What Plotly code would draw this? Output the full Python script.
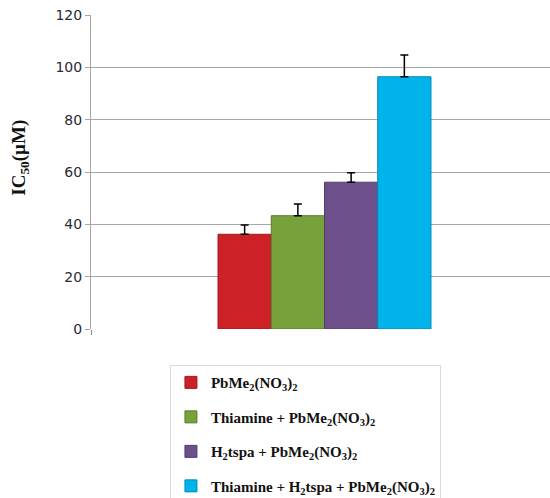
import plotly.graph_objects as go

# IC50 values (µM) and upper error for each treatment
labels = [
    "<b>PbMe<sub>2</sub>(NO<sub>3</sub>)<sub>2</sub></b>",
    "<b>Thiamine + PbMe<sub>2</sub>(NO<sub>3</sub>)<sub>2</sub></b>",
    "<b>H<sub>2</sub>tspa + PbMe<sub>2</sub>(NO<sub>3</sub>)<sub>2</sub></b>",
    "<b>Thiamine + H<sub>2</sub>tspa + PbMe<sub>2</sub>(NO<sub>3</sub>)<sub>2</sub></b>",
]
ic50 = [36.2, 43.3, 56.1, 96.4]
err = [3.5, 4.5, 3.6, 8.3]
fills = ["#CD2027", "#77A23B", "#6D508B", "#00B4EB"]
edges = ["#9E1A1F", "#5A7E2B", "#533C6B", "#0089B8"]

fig = go.Figure()
for i in range(len(labels)):
    fig.add_trace(go.Bar(
        x=[0], y=[ic50[i]], name=labels[i],
        legendgroup=f"g{i}",
        marker=dict(color=fills[i], line=dict(color=edges[i], width=1)),
        error_y=dict(type="data", array=[err[i]], symmetric=False,
                     arrayminus=[0], color="black", thickness=1.5, width=4),
    ))

# rotated y-axis title placed to the left of the tick labels
fig.add_annotation(
    text="<b>IC<sub>50</sub>(µM)</b>", textangle=-90,
    xref="paper", yref="paper", x=-0.155, y=0.545,
    xanchor="center", yanchor="middle", showarrow=False,
    font=dict(family="Liberation Serif", size=19, color="#111"),
)

fig.update_layout(
    width=550, height=498,
    margin=dict(l=91, r=0, t=15, b=169, autoexpand=False),
    paper_bgcolor="white", plot_bgcolor="white",
    barmode="group", bargap=0.536, bargroupgap=0,
    showlegend=True,
    legend=dict(
        x=0.172, y=-0.115, xanchor="left", yanchor="top",
        bordercolor="#D9D9D9", borderwidth=1, bgcolor="white",
        font=dict(family="Liberation Serif", size=15, color="#111"),
        tracegroupgap=12, traceorder="grouped",
    ),
    xaxis=dict(
        range=[-0.5087, 0.4913], showgrid=False, zeroline=False,
        showline=False, ticks="outside", ticklen=5, tickcolor="#888",
        tickvals=[-0.5087], ticktext=[""],
    ),
    yaxis=dict(
        range=[0, 120], dtick=20, showgrid=True, gridcolor="#A6A6A6",
        gridwidth=1, zeroline=False, showline=True, linecolor="#A6A6A6",
        ticks="outside", ticklen=5, tickcolor="#A6A6A6",
        tickfont=dict(family="DejaVu Sans", size=14, color="#2A2A3A"),
    ),
)

fig.write_html("out.html")
